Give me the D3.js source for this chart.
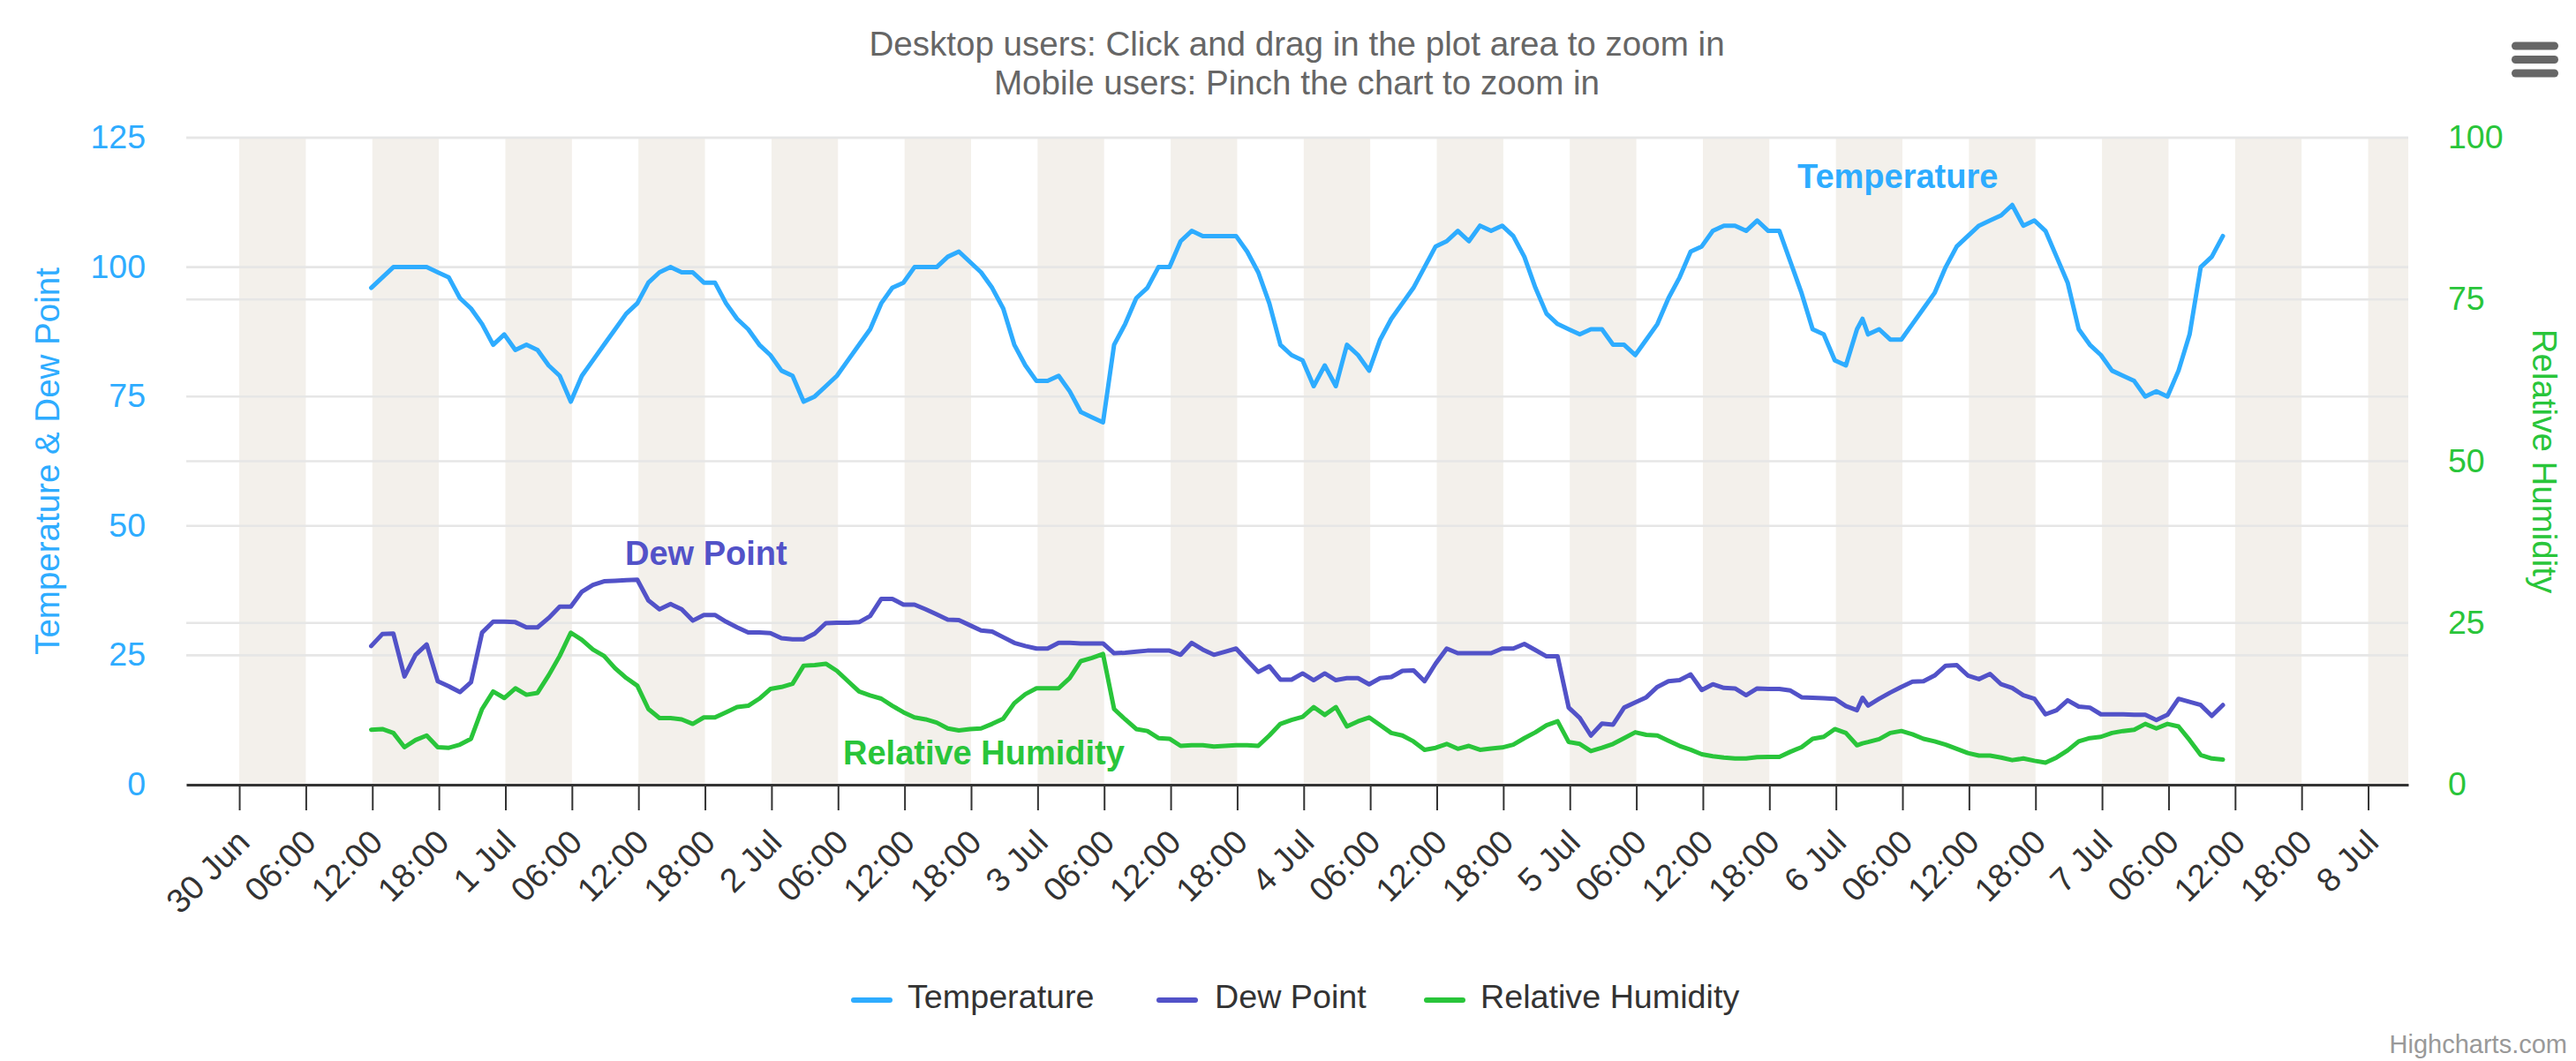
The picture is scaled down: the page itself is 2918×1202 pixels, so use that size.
<!DOCTYPE html>
<html><head><meta charset="utf-8">
<script src="https://cdn.jsdelivr.net/npm/d3@7"></script>
<style>
html,body{margin:0;padding:0;background:#fff;}
svg{display:block;font-family:"Liberation Sans", Arial, Helvetica, sans-serif;}
</style></head><body>
<svg id="chart" width="2918" height="1202"></svg>
<script>
// ---------------- DATA ----------------
const seriesNames = ["Temperature", "Dew Point", "Relative Humidity"];
const titleLines = ["Desktop users: Click and drag in the plot area to zoom in", "Mobile users: Pinch the chart to zoom in"];
const leftTicks = [0, 25, 50, 75, 100, 125];
const rightTicks = [0, 25, 50, 75, 100];
// observation hours after 30 Jun 00:00 (hourly 12..179, plus one extra report at 146.5)
const obsHours = d3.range(12, 147).concat([146.5]).concat(d3.range(147, 180));
const temperature = [
 96, 98, 100, 100, 100, 100, 99, 98, 94, 92,
 89, 85, 87, 84, 85, 84, 81, 79, 74, 79,
 82, 85, 88, 91, 93, 97, 99, 100, 99, 99,
 97, 97, 93, 90, 88, 85, 83, 80, 79, 74,
 75, 77, 79, 82, 85, 88, 93, 96, 97, 100,
 100, 100, 102, 103, 101, 99, 96, 92, 85, 81,
 78, 78, 79, 76, 72, 71, 70, 85, 89, 94,
 96, 100, 100, 105, 107, 106, 106, 106, 106, 103,
 99, 93, 85, 83, 82, 77, 81, 77, 85, 83,
 80, 86, 90, 93, 96, 100, 104, 105, 107, 105,
 108, 107, 108, 106, 102, 96, 91, 89, 88, 87,
 88, 88, 85, 85, 83, 86, 89, 94, 98, 103,
 104, 107, 108, 108, 107, 109, 107, 107, 101, 95,
 88, 87, 82, 81, 88,
 90,
 87, 88, 86, 86, 89,
 92, 95, 100, 104, 106, 108, 109, 110, 112, 108,
 109, 107, 102, 97, 88, 85, 83, 80, 79, 78,
 75, 76, 75, 80, 87, 100, 102, 106
];
const dewPoint = [
 26.8, 29.1, 29.2, 20.9, 25.1, 27.1, 20.0, 19.0, 17.9, 19.8,
 29.4, 31.5, 31.5, 31.4, 30.4, 30.4, 32.2, 34.4, 34.4, 37.3,
 38.6, 39.3, 39.4, 39.5, 39.6, 35.6, 33.9, 34.9, 33.9, 31.7,
 32.8, 32.8, 31.5, 30.4, 29.4, 29.4, 29.3, 28.3, 28.1, 28.1,
 29.2, 31.2, 31.3, 31.3, 31.4, 32.6, 35.9, 35.9, 34.8, 34.8,
 33.9, 32.9, 31.9, 31.8, 30.8, 29.8, 29.6, 28.5, 27.4, 26.8,
 26.3, 26.3, 27.4, 27.4, 27.3, 27.3, 27.3, 25.4, 25.5, 25.7,
 25.9, 25.9, 25.9, 25.1, 27.4, 26.1, 25.1, 25.7, 26.3, 24.0,
 21.8, 22.9, 20.3, 20.3, 21.5, 20.2, 21.5, 20.2, 20.6, 20.6,
 19.4, 20.6, 20.8, 22.0, 22.1, 20.0, 23.4, 26.3, 25.4, 25.4,
 25.4, 25.4, 26.3, 26.3, 27.2, 26.0, 24.8, 24.8, 14.9, 12.9,
 9.5, 11.8, 11.6, 14.9, 15.9, 16.9, 18.9, 20.0, 20.2, 21.3,
 18.3, 19.4, 18.7, 18.6, 17.3, 18.6, 18.5, 18.5, 18.2, 16.9,
 16.8, 16.7, 16.6, 15.2, 14.4,
 16.8,
 15.3, 16.6, 17.8, 18.9, 19.9,
 20.0, 21.1, 23.0, 23.1, 21.1, 20.4, 21.4, 19.4, 18.7, 17.3,
 16.6, 13.6, 14.4, 16.3, 15.1, 14.9, 13.6, 13.6, 13.6, 13.5,
 13.5, 12.5, 13.5, 16.6, 16.0, 15.4, 13.3, 15.4
];
const humidity = [
 8.5, 8.6, 8.0, 5.8, 6.9, 7.6, 5.8, 5.7, 6.2, 7.1,
 11.7, 14.4, 13.4, 14.9, 13.9, 14.2, 16.9, 19.9, 23.5, 22.4,
 20.9, 19.9, 18.0, 16.5, 15.3, 11.7, 10.3, 10.3, 10.1, 9.4,
 10.4, 10.4, 11.2, 12.0, 12.2, 13.3, 14.8, 15.1, 15.6, 18.4,
 18.5, 18.7, 17.6, 16.0, 14.4, 13.8, 13.3, 12.2, 11.2, 10.4,
 10.1, 9.6, 8.7, 8.4, 8.6, 8.7, 9.4, 10.2, 12.6, 14.0,
 14.9, 14.9, 14.9, 16.5, 19.1, 19.6, 20.2, 11.7, 10.1, 8.6,
 8.3, 7.2, 7.1, 6.0, 6.1, 6.1, 5.9, 6.0, 6.1, 6.1,
 6.0, 7.6, 9.4, 10.0, 10.5, 12.0, 10.8, 12.0, 9.0, 9.8,
 10.4, 9.2, 8.0, 7.6, 6.7, 5.4, 5.7, 6.3, 5.55, 6.0,
 5.4, 5.6, 5.75, 6.2, 7.2, 8.1, 9.2, 9.8, 6.6, 6.3,
 5.2, 5.7, 6.3, 7.2, 8.1, 7.7, 7.6, 6.8, 6.0, 5.4,
 4.7, 4.4, 4.2, 4.05, 4.05, 4.25, 4.3, 4.3, 5.1, 5.8,
 7.1, 7.4, 8.6, 8.0, 6.1,
 6.4,
 6.6, 7.05, 8.0, 8.3, 7.8,
 7.1, 6.7, 6.2, 5.55, 4.9, 4.5, 4.5, 4.2, 3.8, 4.05,
 3.7, 3.4, 4.2, 5.3, 6.7, 7.2, 7.4, 8.0, 8.3, 8.5,
 9.4, 8.7, 9.4, 9.0, 6.9, 4.6, 4.05, 3.9
];

// ---------------- LAYOUT / STYLE ----------------
const plot = {left: 211, right: 2728, top: 156, bottom: 889};
const colors = {temp: "#2eacff", dew: "#5252c8", rh: "#29c53a"};
const HOUR = 3600 * 1000;
const t0 = Date.UTC(2020, 5, 30);
const tAt = h => new Date(t0 + h * HOUR);
const obsOffset = -0.1; // reports come a few minutes before the hour

const svg = d3.select("#chart");
const x = d3.scaleUtc().domain([tAt(-4.78), tAt(195.62)]).range([plot.left, plot.right]);
const yL = d3.scaleLinear().domain([0, 125]).range([plot.bottom, plot.top]);
const yR = d3.scaleLinear().domain([0, 100]).range([plot.bottom, plot.top]);

const xTicks = d3.utcHour.every(6).range(tAt(0), tAt(193));

// alternate bands
const bands = svg.append("g");
for (let i = 0; i < xTicks.length; i += 2) {
  const a = Math.max(plot.left, x(xTicks[i]));
  const b = Math.min(plot.right, x(d3.utcHour.offset(xTicks[i], 6)));
  if (b > a) bands.append("rect").attr("x", a).attr("y", plot.top).attr("width", b - a)
    .attr("height", plot.bottom - plot.top).attr("fill", "#f3f0eb");
}

// grid lines
const grid = svg.append("g").attr("stroke", "#e6e6e6").attr("stroke-width", 2.6);
leftTicks.forEach(v => grid.append("line").attr("x1", plot.left).attr("x2", plot.right)
  .attr("y1", yL(v)).attr("y2", yL(v)));
rightTicks.forEach(v => grid.append("line").attr("x1", plot.left).attr("x2", plot.right)
  .attr("y1", yR(v)).attr("y2", yR(v)));

// x axis
const xAxis = d3.axisBottom(x).tickValues(xTicks).tickSize(29).tickSizeOuter(0)
  .tickFormat(d => d.getUTCHours() === 0 ? d3.utcFormat("%-d %b")(d) : d3.utcFormat("%H:%M")(d));
const gx = svg.append("g").attr("transform", `translate(0,${plot.bottom})`).call(xAxis);
gx.select(".domain").attr("stroke", "#333").attr("stroke-width", 3.2);
gx.selectAll(".tick line").attr("stroke", "#333").attr("stroke-width", 2);
gx.selectAll(".tick text")
  .attr("font-size", 38).attr("fill", "#333").attr("font-family", null)
  .attr("text-anchor", "end").attr("y", 0).attr("dy", "0.35em")
  .attr("transform", "translate(4,58) rotate(-45)");

// left / right y axis labels
const gyl = svg.append("g");
leftTicks.forEach(v => gyl.append("text").attr("x", 165).attr("y", yL(v) + 12)
  .attr("text-anchor", "end").attr("font-size", 37.5).attr("fill", colors.temp).text(v));
const gyr = svg.append("g");
rightTicks.forEach(v => gyr.append("text").attr("x", 2773).attr("y", yR(v) + 12)
  .attr("text-anchor", "start").attr("font-size", 37.5).attr("fill", colors.rh).text(v));

// axis titles
const midY = (plot.top + plot.bottom) / 2;
svg.append("text").attr("transform", `translate(67,${midY}) rotate(-90)`)
  .attr("text-anchor", "middle").attr("font-size", 38.5).attr("fill", colors.temp)
  .text("Temperature & Dew Point");
svg.append("text").attr("transform", `translate(2869,${midY}) rotate(90)`)
  .attr("text-anchor", "middle").attr("font-size", 38.5).attr("fill", colors.rh)
  .text("Relative Humidity");

// title
titleLines.forEach((t, i) => svg.append("text").attr("x", 1469).attr("y", 63 + i * 43.5)
  .attr("text-anchor", "middle").attr("font-size", 38.6).attr("fill", "#666").text(t));

// series lines
const rows = obsHours.map((h, i) => ({t: tAt(h + obsOffset), temp: temperature[i], dew: dewPoint[i], rh: humidity[i]}));
const lineL = key => d3.line().x(d => x(d.t)).y(d => yL(d[key]));
const lineR = key => d3.line().x(d => x(d.t)).y(d => yR(d[key]));
const drawLine = (gen, color) => svg.append("path").datum(rows).attr("d", gen)
  .attr("fill", "none").attr("stroke", color).attr("stroke-width", 5)
  .attr("stroke-linejoin", "round").attr("stroke-linecap", "round");
drawLine(lineL("temp"), colors.temp);
drawLine(lineL("dew"), colors.dew);
drawLine(lineR("rh"), colors.rh);

// series labels
const labels = [
  {text: seriesNames[0], x: 2036, y: 213, c: colors.temp},
  {text: seriesNames[1], x: 708, y: 640, c: colors.dew},
  {text: seriesNames[2], x: 955, y: 866, c: colors.rh}
];
labels.forEach(l => svg.append("text").attr("x", l.x).attr("y", l.y).attr("font-size", 38)
  .attr("font-weight", "bold").attr("fill", l.c).text(l.text));

// legend
const legendItems = [
  {name: seriesNames[0], c: colors.temp, sx: 964, tx: 1028},
  {name: seriesNames[1], c: colors.dew, sx: 1310, tx: 1376},
  {name: seriesNames[2], c: colors.rh, sx: 1613, tx: 1677}
];
legendItems.forEach(it => {
  svg.append("line").attr("x1", it.sx + 3).attr("x2", it.sx + 44).attr("y1", 1133).attr("y2", 1133)
    .attr("stroke", it.c).attr("stroke-width", 6).attr("stroke-linecap", "round");
  svg.append("text").attr("x", it.tx).attr("y", 1142).attr("font-size", 37.7).attr("fill", "#333").text(it.name);
});

// credits
svg.append("text").attr("x", 2908).attr("y", 1193).attr("text-anchor", "end")
  .attr("font-size", 29).attr("fill", "#999").text("Highcharts.com");

// menu icon
[47.5, 63, 78.5].forEach(y => svg.append("rect").attr("x", 2845).attr("y", y).attr("width", 53)
  .attr("height", 9).attr("rx", 4.5).attr("fill", "#666"));
</script>
</body></html>
